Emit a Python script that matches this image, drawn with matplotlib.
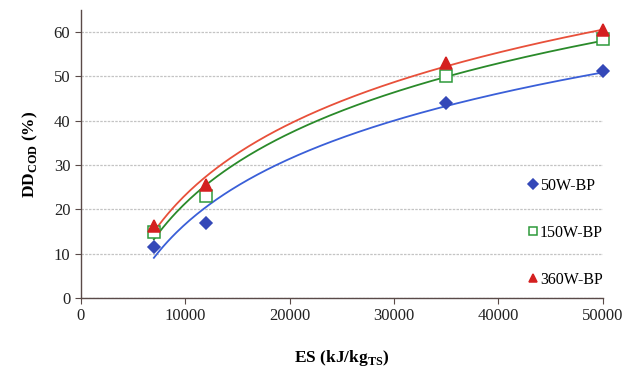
import numpy as np
import matplotlib.pyplot as plt

es = [7000, 12000, 35000, 50000]
dd_50w = [11.5, 17.0, 44.0, 51.3]
dd_150w = [15.0, 23.0, 50.2, 58.5]
dd_360w = [16.2, 25.5, 53.0, 60.5]

series = [
    ("50W-BP", dd_50w, "D", "#3448b8", "#3448b8", "#3a5fd8"),
    ("150W-BP", dd_150w, "s", "white", "#2e9a3a", "#2a8a2a"),
    ("360W-BP", dd_360w, "^", "#d42020", "#d42020", "#e8503a"),
]

plt.rcParams["font.family"] = ["Liberation Serif", "DejaVu Serif"]
plt.rcParams["mathtext.fontset"] = "custom"
plt.rcParams["mathtext.rm"] = "Liberation Serif"
plt.rcParams["mathtext.bf"] = "Liberation Serif:bold"

fig = plt.figure(figsize=(6.36, 3.67), dpi=100)
ax = fig.add_axes([0.127, 0.188, 0.821, 0.785])

x = np.array(es, dtype=float)
xs = np.linspace(7000, 50000, 200)
for label, y, marker, face, edge, line_c in series:
    # logarithmic trend line, as in the original spreadsheet chart
    a, b = np.polyfit(np.log(x), np.array(y), 1)
    ax.plot(xs, a * np.log(xs) + b, color=line_c, lw=1.3, zorder=2)
    ms = 6.5 if marker == "D" else 8
    ax.plot(x, y, linestyle="none", marker=marker, markersize=ms,
            markerfacecolor=face, markeredgecolor=edge, markeredgewidth=1.1,
            label=label, clip_on=False, zorder=3)

ax.set_xlim(0, 50000)
ax.set_ylim(0, 65)
ax.set_xticks(range(0, 50001, 10000))
ax.set_yticks(range(0, 61, 10))
ax.yaxis.grid(True, color="#c4c4c4", lw=0.9, linestyle=(0, (2, 1)))
ax.set_axisbelow(True)

for s in ["top", "right"]:
    ax.spines[s].set_visible(False)
for s in ["left", "bottom"]:
    ax.spines[s].set_color("#5a4a48")
    ax.spines[s].set_linewidth(1.0)
ax.tick_params(colors="#5a4a48", labelcolor="#222222", labelsize=12, length=4)

ax.set_xlabel(r"ES (kJ/kg$_{\mathbf{TS}}$)", fontsize=12.5, fontweight="bold", labelpad=17)
ax.set_ylabel(r"DD$_{\mathbf{COD}}$ (%)", fontsize=12.5, fontweight="bold", labelpad=10)

leg = ax.legend(loc="upper right", bbox_to_anchor=(1.012, 0.44), frameon=False,
                handlelength=0.5, handletextpad=0.15, labelspacing=1.95, fontsize=11.5,
                markerscale=0.75, borderaxespad=0)

fig.savefig("out.png", dpi=100)
